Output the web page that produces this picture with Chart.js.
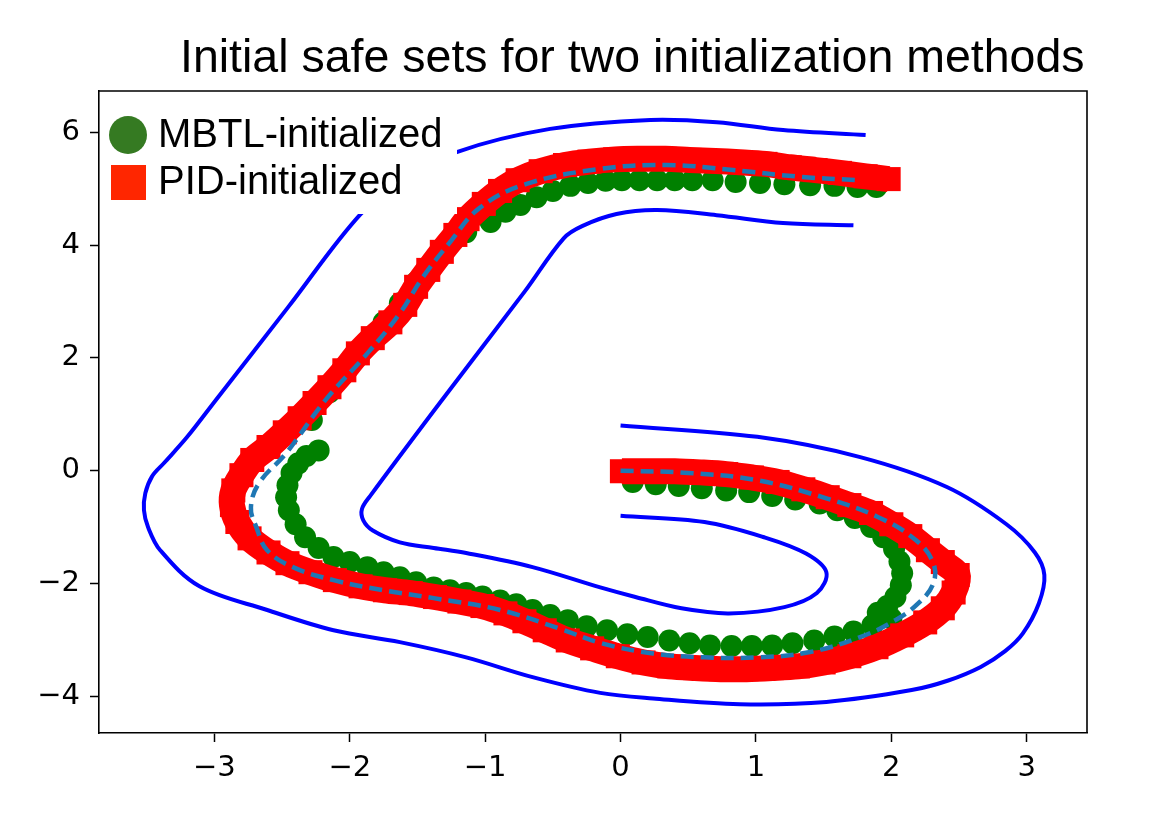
<!DOCTYPE html>
<html>
<head>
<meta charset="utf-8">
<script src="https://cdn.jsdelivr.net/npm/chart.js@4.4.1/dist/chart.umd.min.js"></script>
<style>
  html, body { margin: 0; padding: 0; background: #fff; }
  canvas { display: block; }
</style>
</head>
<body>
<canvas id="safeSetChart" width="1158" height="833"></canvas>
<script>
// axis ticks
const xTicks = [-3, -2, -1, 0, 1, 2, 3];
const xTickLabels = ['\u22123', '\u22122', '\u22121', '0', '1', '2', '3'];
const yTicks = [-4, -2, 0, 2, 4, 6];
const yTickLabels = ['\u22124', '\u22122', '0', '2', '4', '6'];

// track centre line (dashed)
const centerX = [0, 0.50, 1.01, 1.52, 1.90, 2.18, 2.31, 2.31, 2.20, 2.03, 1.77, 1.39, 1.01, 0.62, 0.24, -0.14, -0.45, -0.89, -1.38, -1.75, -2.12, -2.42, -2.61, -2.69, -2.73, -2.67, -2.47, -2.18, -1.87, -1.63, -1.46, -1.26, -1.04, -0.70, -0.15, 0.34, 0.83, 1.33, 1.75];
const centerY = [0, -0.04, -0.17, -0.49, -0.82, -1.23, -1.64, -2.00, -2.35, -2.65, -2.95, -3.22, -3.31, -3.31, -3.24, -3.06, -2.80, -2.47, -2.26, -2.12, -1.94, -1.71, -1.41, -1.00, -0.65, -0.22, 0.31, 1.25, 2.08, 2.79, 3.43, 4.05, 4.66, 5.08, 5.35, 5.42, 5.33, 5.21, 5.15];

// outer track boundary
const outerX = [0, 1.01, 1.77, 2.41, 2.85, 3.06, 3.13, 3.09, 2.97, 2.84, 2.66, 2.42, 2.15, 1.52, 0.88, 0.24, -0.15, -0.65, -1.14, -1.63, -2.12, -2.61, -3.11, -3.40, -3.49, -3.52, -3.51, -3.46, -3.37, -3.20, -2.99, -2.455, -1.92, -1.60, -1.21, -0.52, 0.22, 0.71, 1.20, 1.81];
const outerY = [0.80, 0.60, 0.24, -0.29, -0.95, -1.45, -1.85, -2.35, -2.89, -3.20, -3.48, -3.72, -3.89, -4.10, -4.14, -4.04, -3.94, -3.66, -3.31, -3.04, -2.83, -2.47, -2.05, -1.41, -1.00, -0.70, -0.40, -0.10, 0.14, 0.60, 1.25, 2.90, 4.55, 5.15, 5.65, 6.06, 6.22, 6.18, 6.04, 5.95];

// inner track boundary
const innerX = [0, 0.62, 1.06, 1.37, 1.52, 1.45, 1.21, 0.80, 0.45, 0.11, -0.15, -0.65, -1.14, -1.38, -1.63, -1.83, -1.90, -1.91, -1.85, -1.32, -0.71, -0.42, -0.28, -0.03, 0.27, 0.71, 1.20, 1.72];
const innerY = [-0.80, -0.91, -1.18, -1.47, -1.80, -2.17, -2.42, -2.53, -2.44, -2.24, -2.07, -1.71, -1.46, -1.37, -1.27, -1.06, -0.88, -0.68, -0.45, 1.25, 3.17, 4.12, 4.34, 4.55, 4.62, 4.53, 4.39, 4.35];

// PID-initialized safe set
const pidX = [0.01, 0.21, 0.40, 0.59, 0.78, 0.97, 1.16, 1.35, 1.53, 1.69, 1.85, 2.00, 2.14, 2.27, 2.38, 2.49, 2.46, 2.38, 2.25, 2.08, 1.89, 1.69, 1.50, 1.31, 1.12, 0.93, 0.74, 0.55, 0.36, 0.17, -0.02, -0.21, -0.39, -0.56, -0.71, -0.85, -1.02, -1.19, -1.37, -1.55, -1.74, -1.92, -2.11, -2.29, -2.46, -2.60, -2.74, -2.83, -2.87, -2.86, -2.80, -2.72, -2.60, -2.48, -2.37, -2.26, -2.15, -2.04, -1.94, -1.83, -1.70, -1.59, -1.51, -1.42, -1.32, -1.22, -1.13, -1.01, -0.89, -0.76, -0.59, -0.41, -0.23, -0.04, 0.14, 0.33, 0.51, 0.70, 0.88, 1.07, 1.25, 1.44, 1.62, 1.81, 1.98];
const pidY = [-0.01, -0.01, -0.01, -0.03, -0.06, -0.12, -0.20, -0.33, -0.47, -0.61, -0.75, -0.95, -1.16, -1.41, -1.62, -1.85, -2.16, -2.44, -2.69, -2.92, -3.13, -3.29, -3.40, -3.47, -3.50, -3.52, -3.52, -3.50, -3.47, -3.40, -3.29, -3.15, -3.01, -2.83, -2.67, -2.53, -2.40, -2.32, -2.24, -2.17, -2.12, -2.05, -1.94, -1.80, -1.64, -1.45, -1.20, -0.91, -0.61, -0.35, -0.08, 0.19, 0.42, 0.68, 0.93, 1.20, 1.48, 1.78, 2.08, 2.35, 2.63, 2.94, 3.26, 3.56, 3.88, 4.18, 4.46, 4.73, 4.96, 5.15, 5.31, 5.42, 5.48, 5.52, 5.53, 5.53, 5.51, 5.49, 5.47, 5.44, 5.38, 5.33, 5.28, 5.22, 5.17];

// MBTL-initialized safe set, three pieces
const mbtlAX = [0.09, 0.26, 0.43, 0.60, 0.78, 0.95, 1.12, 1.29, 1.47, 1.60, 1.73, 1.85, 1.94, 2.02, 2.06, 2.08, 2.07, 2.03, 1.97, 1.90];
const mbtlAY = [-0.20, -0.24, -0.27, -0.31, -0.35, -0.38, -0.45, -0.51, -0.58, -0.70, -0.84, -1.00, -1.18, -1.39, -1.61, -1.82, -2.03, -2.24, -2.40, -2.52];
const mbtlBX = [2.00, 1.86, 1.72, 1.58, 1.43, 1.27, 1.12, 0.97, 0.82, 0.66, 0.51, 0.36, 0.20, 0.05, -0.10, -0.25, -0.39, -0.52, -0.65, -0.77, -0.89, -1.02, -1.14, -1.26, -1.38, -1.51, -1.63, -1.75, -1.87, -2.00, -2.12, -2.23, -2.33, -2.40, -2.45, -2.47, -2.46, -2.43, -2.38, -2.32, -2.23];
const mbtlBY = [-2.62, -2.74, -2.85, -2.94, -3.01, -3.06, -3.10, -3.11, -3.11, -3.10, -3.06, -3.01, -2.95, -2.90, -2.83, -2.76, -2.65, -2.56, -2.47, -2.37, -2.30, -2.23, -2.17, -2.12, -2.07, -1.98, -1.89, -1.80, -1.71, -1.62, -1.53, -1.37, -1.18, -0.95, -0.70, -0.47, -0.26, -0.04, 0.13, 0.26, 0.36];
const mbtlCX = [-2.28, -2.15, -2.01, -1.89, -1.75, -1.63, -1.51, -1.39, -1.27, -1.14, -0.96, -0.85, -0.74, -0.62, -0.50, -0.37, -0.24, -0.11, 0.01, 0.14, 0.27, 0.40, 0.53, 0.68, 0.85, 1.03, 1.21, 1.40, 1.58, 1.75, 1.89];
const mbtlCY = [0.90, 1.39, 1.84, 2.23, 2.63, 2.97, 3.34, 3.70, 4.00, 4.23, 4.41, 4.59, 4.71, 4.85, 4.96, 5.05, 5.10, 5.14, 5.15, 5.15, 5.15, 5.15, 5.15, 5.15, 5.12, 5.10, 5.08, 5.06, 5.05, 5.03, 5.03];

const pts = (xs, ys) => xs.map((x, i) => ({ x: x, y: ys[i] }));

// frame, legend and title drawn on the canvas
const decorPlugin = {
    id: 'decor',
    afterDatasetsDraw(chart) {
        const ctx = chart.ctx;
        const a = chart.chartArea;
        ctx.save();
        // top / right spines
        ctx.strokeStyle = '#000';
        ctx.lineWidth = 1.6;
        ctx.beginPath();
        ctx.moveTo(a.left, a.top);
        ctx.lineTo(a.right, a.top);
        ctx.lineTo(a.right, a.bottom);
        ctx.stroke();

        // legend box
        ctx.fillStyle = '#fff';
        ctx.fillRect(103, 100, 354, 114);
        ctx.fillStyle = '#357a22';
        ctx.beginPath();
        ctx.arc(128, 135, 19, 0, Math.PI * 2);
        ctx.fill();
        ctx.fillStyle = '#ff2600';
        ctx.fillRect(111, 165, 35, 35);
        ctx.fillStyle = '#000';
        ctx.font = '40px "Liberation Sans", Arial, sans-serif';
        ctx.textAlign = 'left';
        ctx.textBaseline = 'middle';
        ctx.fillText('MBTL-initialized', 158, 136);
        ctx.fillText('PID-initialized', 158, 183);
        ctx.restore();
    },
    afterDraw(chart) {
        const ctx = chart.ctx;
        ctx.save();
        ctx.fillStyle = '#000';
        ctx.font = '46.5px "Liberation Sans", Arial, sans-serif';
        ctx.textAlign = 'left';
        ctx.textBaseline = 'alphabetic';
        ctx.fillText('Initial safe sets for two initialization methods', 180, 72);
        ctx.restore();
    }
};

const ctx = document.getElementById('safeSetChart').getContext('2d');
const safeSetChart = new Chart(ctx, {
    type: 'scatter',
    data: {
        datasets: [
            {
                label: 'centre line',
                data: pts(centerX, centerY),
                showLine: true,
                borderColor: '#1f77b4',
                borderWidth: 4.5,
                borderDash: [13, 7],
                tension: 0.4,
                pointRadius: 0,
                fill: false
            },
            {
                label: 'PID-initialized',
                data: pts(pidX, pidY),
                showLine: true,
                borderColor: '#ff0000',
                borderWidth: 26,
                tension: 0.3,
                pointStyle: 'rect',
                pointRadius: 17,
                pointBorderWidth: 0,
                pointBackgroundColor: '#ff0000',
                fill: false
            },
            {
                label: 'MBTL-initialized',
                data: pts(mbtlAX, mbtlAY),
                pointRadius: 11,
                pointBorderWidth: 0,
                pointBackgroundColor: '#008000'
            },
            {
                label: 'MBTL-initialized',
                data: pts(mbtlBX, mbtlBY),
                pointRadius: 11,
                pointBorderWidth: 0,
                pointBackgroundColor: '#008000'
            },
            {
                label: 'MBTL-initialized',
                data: pts(mbtlCX, mbtlCY),
                pointRadius: 11,
                pointBorderWidth: 0,
                pointBackgroundColor: '#008000'
            },
            {
                label: 'outer',
                data: pts(outerX, outerY),
                showLine: true,
                borderColor: '#0000ff',
                borderWidth: 4,
                tension: 0.35,
                pointRadius: 0,
                fill: false
            },
            {
                label: 'inner',
                data: pts(innerX, innerY),
                showLine: true,
                borderColor: '#0000ff',
                borderWidth: 4,
                tension: 0.35,
                pointRadius: 0,
                fill: false
            }
        ]
    },
    options: {
        responsive: false,
        devicePixelRatio: 1,
        animation: false,
        events: [],
        layout: {
            padding: { top: 91, right: 71, left: 0, bottom: 0 }
        },
        scales: {
            x: {
                type: 'linear',
                min: -3.852,
                max: 3.445,
                afterBuildTicks: (s) => { s.ticks = xTicks.map(v => ({ value: v })); },
                afterFit: (s) => { s.height = 100; },
                grid: {
                    drawOnChartArea: false,
                    drawTicks: true,
                    tickLength: 9,
                    tickWidth: 1.5,
                    tickColor: '#000'
                },
                border: { display: true, color: '#000', width: 1.6 },
                ticks: {
                    color: '#000',
                    padding: 9,
                    maxRotation: 0,
                    font: { family: '"DejaVu Sans"', size: 29 },
                    callback: (v) => xTickLabels[xTicks.indexOf(v)]
                }
            },
            y: {
                type: 'linear',
                min: -4.651,
                max: 6.732,
                afterBuildTicks: (s) => { s.ticks = yTicks.map(v => ({ value: v })); },
                afterFit: (s) => { s.width = 99; },
                grid: {
                    drawOnChartArea: false,
                    drawTicks: true,
                    tickLength: 9,
                    tickWidth: 1.5,
                    tickColor: '#000'
                },
                border: { display: true, color: '#000', width: 1.6 },
                ticks: {
                    color: '#000',
                    padding: 10,
                    font: { family: '"DejaVu Sans"', size: 29 },
                    callback: (v) => yTickLabels[yTicks.indexOf(v)]
                }
            }
        },
        plugins: {
            legend: { display: false },
            title: { display: false },
            tooltip: { enabled: false }
        }
    },
    plugins: [decorPlugin]
});
</script>
</body>
</html>
